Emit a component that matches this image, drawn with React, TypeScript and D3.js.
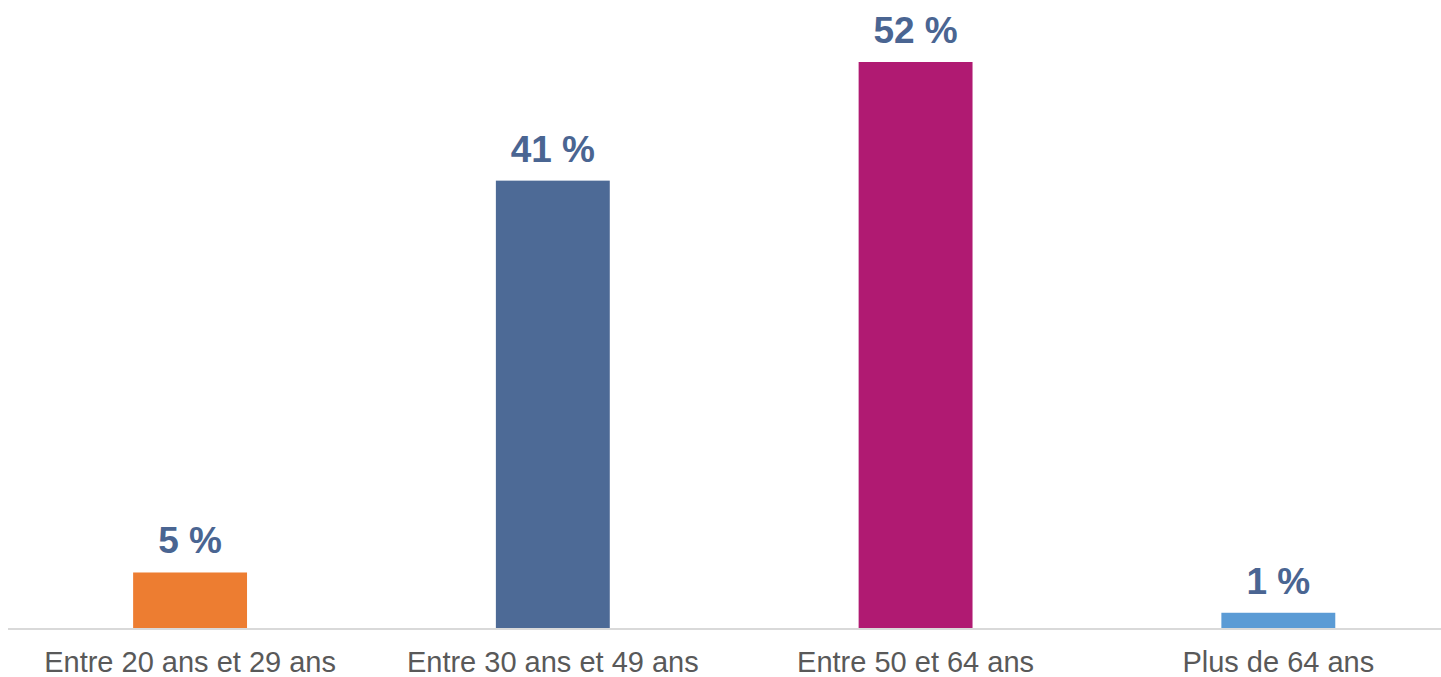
import React from "react";
import * as d3 from "d3";

const categories = ["Entre 20 ans et 29 ans", "Entre 30 ans et 49 ans", "Entre 50 et 64 ans", "Plus de 64 ans"];
const values = [5.1, 41.1, 52.0, 1.4];
const colors = ["#ED7D31", "#4D6A96", "#B01A72", "#5B9BD5"];

const W = 1441;
const H = 677;
const baseline = 628;

export default function App() {
  const x = d3
    .scaleBand<string>()
    .domain(categories)
    .range([8.7, 1459.7])
    .paddingInner(0.686)
    .paddingOuter(0.343);
  const y = d3.scaleLinear().domain([0, 52]).range([baseline, 62]);

  return (
    <svg
      width={W}
      height={H}
      style={{ position: "absolute", left: 0, top: 0, display: "block" }}
      fontFamily="'Liberation Sans', Arial, sans-serif"
    >
      <rect x={0} y={0} width={W} height={H} fill="#ffffff" />
      {categories.map((c, i) => (
        <g key={c}>
          <rect
            x={x(c)!}
            y={y(values[i])}
            width={x.bandwidth()}
            height={baseline - y(values[i])}
            fill={colors[i]}
          />
          <text
            x={x(c)! + x.bandwidth() / 2}
            y={y(values[i]) - 19}
            textAnchor="middle"
            fontWeight="bold"
            fontSize={37}
            fill="#4A6592"
          >
            {`${Math.round(values[i])} %`}
          </text>
          <text
            x={x(c)! + x.bandwidth() / 2}
            y={672}
            textAnchor="middle"
            fontSize={29}
            fill="#595959"
          >
            {c}
          </text>
        </g>
      ))}
      <line x1={8} x2={W} y1={baseline + 1} y2={baseline + 1} stroke="#D9D9D9" strokeWidth={2} />
    </svg>
  );
}
